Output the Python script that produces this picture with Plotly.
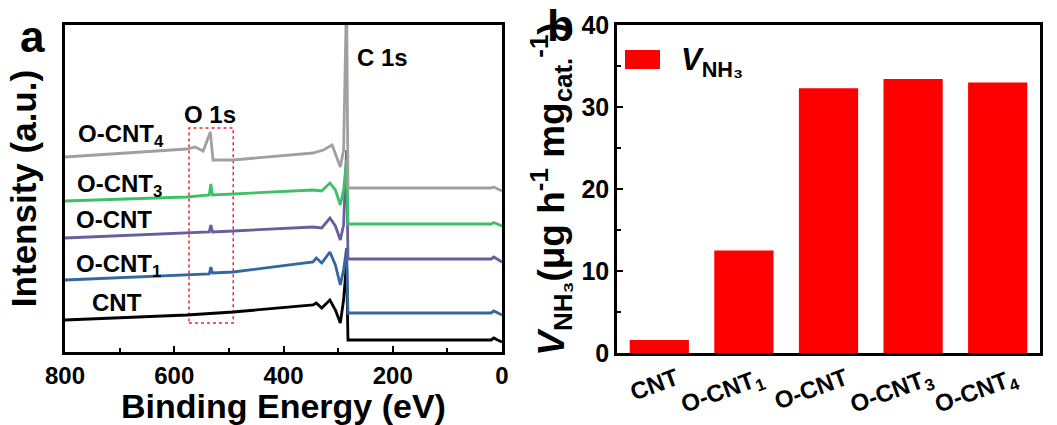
import plotly.graph_objects as go

W, H = 1057, 425

# ---------------- Panel a: XPS survey spectra (intensity in a.u.) ----------------
e_cnt = [800, 577, 492, 346, 340, 330, 315, 305, 296, 290, 284.5, 282, 20, 15, 8, 0]
i_cnt = [32, 37, 40, 47, 49, 44, 52, 42, 29, 52, 90, 12, 12, 14, 12, 10]

e_ocnt1 = [800, 577, 536, 533, 530, 492, 346, 340, 330, 315, 305, 296, 290, 284.5, 282, 20, 15, 0]
i_ocnt1 = [72, 77, 78, 85, 79, 80, 90, 94, 89, 100, 87, 67, 82, 104, 39, 39, 41, 37]

e_ocnt = [800, 577, 536, 533, 530, 492, 346, 330, 315, 305, 296, 290, 284.5, 282, 20, 15, 0]
i_ocnt = [114, 119, 120, 127, 120, 121, 125, 124, 134, 126, 112, 127, 202, 93, 93, 95, 90]

e_ocnt3 = [800, 577, 536, 533, 530, 346, 330, 315, 305, 296, 290, 284.5, 282, 20, 15, 0]
i_ocnt3 = [151, 155, 157, 168, 157, 162, 161, 169, 162, 147, 162, 192, 128, 128, 129.5, 126]

e_ocnt4 = [800, 577, 562, 547, 534, 529, 492, 346, 327, 311, 296, 290, 284.5, 282, 20, 15, 0]
i_ocnt4 = [195, 203, 205, 201, 220, 192, 192, 199, 202, 207, 185, 202, 360, 164, 164, 165, 161]

spectra_names = ["CNT", "O-CNT<sub>1</sub>", "O-CNT", "O-CNT<sub>3</sub>", "O-CNT<sub>4</sub>"]
spectra_colors = ["#000000", "#35679f", "#675f9c", "#3ec066", "#a0a0a0"]

# ---------------- Panel b: NH3 yield rate ----------------
categories = ["CNT", "O-CNT1", "O-CNT", "O-CNT3", "O-CNT4"]
tick_labels = ["CNT", "O-CNT<sub>1</sub>", "O-CNT", "O-CNT<sub>3</sub>", "O-CNT<sub>4</sub>"]
v_nh3 = [1.6, 12.5, 32.3, 33.4, 33.0]

FONT = "Arial, Liberation Sans, sans-serif"


def px(x):
    return x / W


def py(y):
    return 1 - y / H


fig = go.Figure()

spectra = [(e_cnt, i_cnt), (e_ocnt1, i_ocnt1), (e_ocnt, i_ocnt), (e_ocnt3, i_ocnt3), (e_ocnt4, i_ocnt4)]
for (e, inten), name, col in zip(spectra, spectra_names, spectra_colors):
    fig.add_trace(go.Scatter(x=e, y=inten, mode="lines", name=name,
                             line=dict(color=col, width=2.8), showlegend=False,
                             xaxis="x", yaxis="y"))

fig.add_trace(go.Bar(x=categories, y=v_nh3, marker=dict(color="#ff0000", line=dict(width=0)),
                     width=0.7, showlegend=False, xaxis="x2", yaxis="y2", name="V_NH3"))

axis_common = dict(showline=True, linecolor="black", linewidth=2.5, mirror=True,
                   showgrid=False, zeroline=False, automargin=False)

fig.update_layout(
    width=W, height=H, margin=dict(l=0, r=0, t=0, b=0),
    paper_bgcolor="white", plot_bgcolor="white",
    font=dict(family=FONT, color="black"),
    xaxis=dict(domain=[px(65), px(502)], range=[800, 0], anchor="y",
               tickmode="array", tickvals=[800, 600, 400, 200, 0],
               ticks="inside", ticklen=6, tickwidth=2, tickcolor="black",
               minor=dict(ticks="inside", ticklen=4, tickwidth=2, tickcolor="black",
                          tickvals=[700, 500, 300, 100]),
               tickfont=dict(size=24, family=FONT, weight="bold"),
               title=dict(text="Binding Energy (eV)", font=dict(size=34, family=FONT, weight="bold"),
                          standoff=0),
               **axis_common),
    yaxis=dict(domain=[py(352), py(25)], range=[0, 327], anchor="x",
               showticklabels=False, ticks="",
               title=dict(text="Intensity (a.u.)", font=dict(size=35, family=FONT, weight="bold"),
                          standoff=16),
               **axis_common),
    xaxis2=dict(domain=[px(617), px(1040)], range=[-0.5, 4.5], anchor="y2",
                tickmode="array", tickvals=categories, ticktext=tick_labels,
                tickangle=-20, ticks="", ticklabelshift=17,
                tickfont=dict(size=24, family=FONT, weight="bold"),
                **axis_common),
    yaxis2=dict(domain=[py(353), py(25)], range=[0, 40], anchor="x2",
                tickmode="array", tickvals=[0, 10, 20, 30, 40],
                ticks="inside", ticklen=6, tickwidth=2, tickcolor="black",
                minor=dict(ticks="inside", ticklen=4, tickwidth=2, tickcolor="black",
                           tickvals=[5, 15, 25, 35]),
                tickfont=dict(size=25, family=FONT, weight="bold"),
                title=dict(text="<i>V</i><sub>NH₃</sub>(μg h<sup>-1</sup> mg<sub>cat.</sub><sup>-1</sup>)",
                           font=dict(size=37, family=FONT, weight="bold"), standoff=6),
                **axis_common),
)

# dashed box around the O 1s region
fig.add_shape(type="rect", xref="x", yref="y", x0=573, x1=492, y0=29, y1=224,
              line=dict(color="#e8262b", width=1.5, dash="dot"), layer="below")

# legend for panel b
fig.add_shape(type="rect", xref="paper", yref="paper", x0=px(625), x1=px(660), y0=py(69), y1=py(50),
              fillcolor="#ff0000", line=dict(width=0))

ann = []
lbl_font = dict(size=24, family=FONT, color="black", weight="bold")
for text, x, y in [("O-CNT<sub>4</sub>", 76, 135), ("O-CNT<sub>3</sub>", 75, 185),
                   ("O-CNT", 74, 219), ("O-CNT<sub>1</sub>", 74, 265), ("CNT", 90, 302)]:
    ann.append(dict(text=text, x=px(x), y=py(y), xref="paper", yref="paper",
                    xanchor="left", yanchor="middle", showarrow=False, font=lbl_font))
ann.append(dict(text="O 1s", x=px(182), y=py(114), xref="paper", yref="paper",
                xanchor="left", yanchor="middle", showarrow=False, font=lbl_font))
ann.append(dict(text="C 1s", x=px(355), y=py(57), xref="paper", yref="paper",
                xanchor="left", yanchor="middle", showarrow=False, font=lbl_font))
ann.append(dict(text="<i>V</i><sub>NH₃</sub>", x=px(679), y=py(62), xref="paper", yref="paper",
                xanchor="left", yanchor="middle", showarrow=False,
                font=dict(size=31, family=FONT, color="black", weight="bold")))
ann.append(dict(text="a", x=px(32), y=py(36), xref="paper", yref="paper",
                xanchor="center", yanchor="middle", showarrow=False,
                font=dict(size=44, family=FONT, color="black", weight="bold")))
ann.append(dict(text="b", x=px(560), y=py(25), xref="paper", yref="paper",
                xanchor="center", yanchor="middle", showarrow=False,
                font=dict(size=44, family=FONT, color="black", weight="bold")))
fig.update_layout(annotations=ann)

fig.write_html("out.html")
